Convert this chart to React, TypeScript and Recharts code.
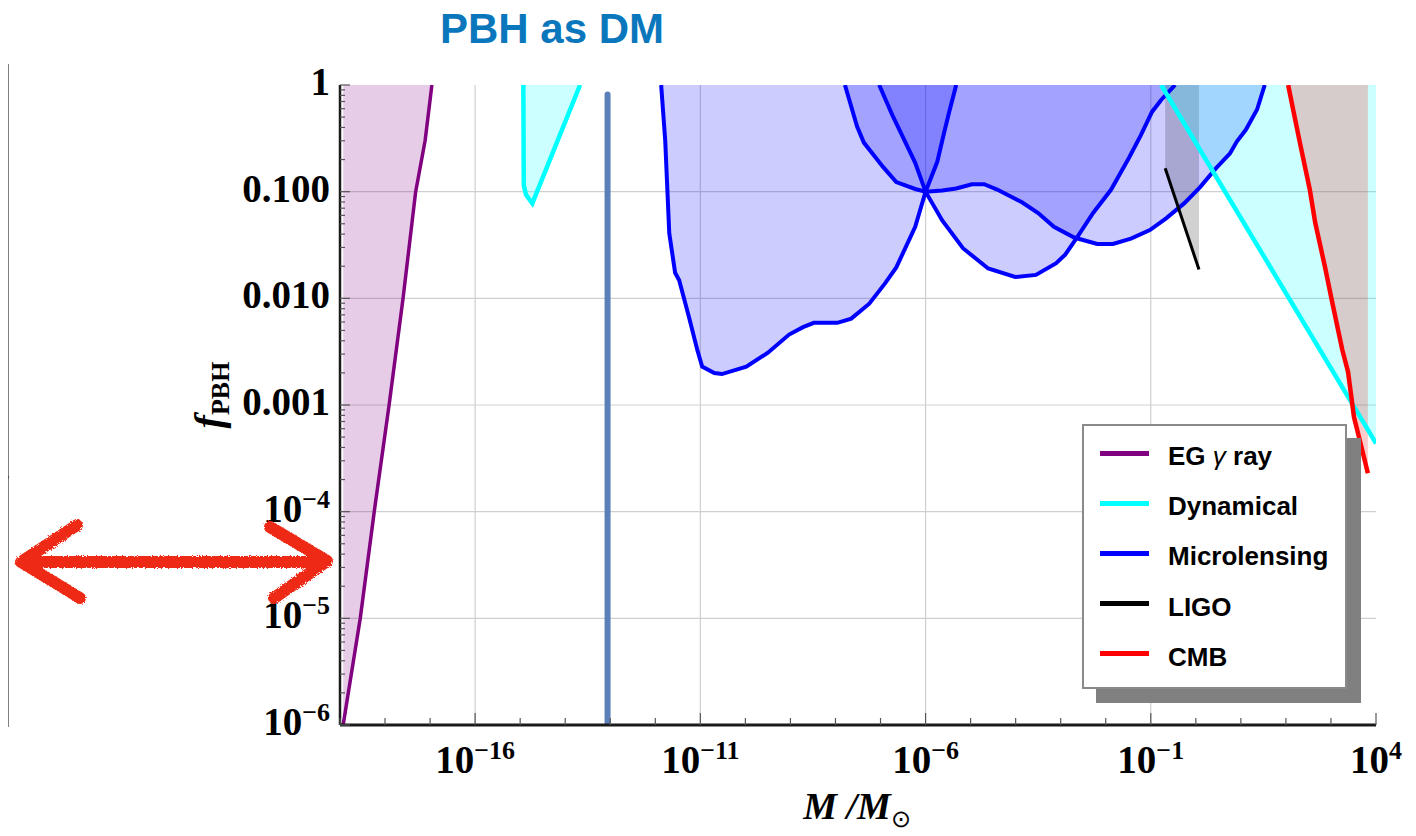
import React from "react";
import { ComposedChart, Area, Line, XAxis, YAxis, CartesianGrid } from "recharts";

// all points are [log10(M/Msun), log10(f_PBH)]
const egGamma = [[-18.93, -6], [-18.55, -5], [-18.24, -4], [-17.91, -3], [-17.6, -2], [-17.32, -1], [-17.11, -0.52], [-16.96, 0]];
const dynSmall = [[-14.93, 0], [-14.92, -0.94], [-14.87, -1.03], [-14.73, -1.11], [-13.67, 0]];
const dynLarge = [[-0.77, 0], [4, -3.36]];
const spike = [[-13.06, -6], [-13.06, -0.09]];
const lensA = [
  [-11.87, 0], [-11.78, -0.52], [-11.69, -1.39], [-11.56, -1.76], [-11.47, -1.83], [-11.25, -2.18],
  [-11.07, -2.48], [-10.96, -2.64], [-10.69, -2.7], [-10.52, -2.71], [-9.98, -2.64], [-9.5, -2.51],
  [-9.03, -2.34], [-8.72, -2.27], [-8.48, -2.23], [-7.96, -2.23], [-7.65, -2.19], [-7.25, -2.05],
  [-6.9, -1.86], [-6.65, -1.71], [-6.23, -1.33], [-6.0, -1.0], [-5.74, -0.72], [-5.59, -0.45],
  [-5.48, -0.26], [-5.32, 0],
];
const lensB = [
  [-7.79, 0], [-7.52, -0.39], [-7.37, -0.54], [-6.94, -0.77], [-6.65, -0.91], [-6.23, -0.975],
  [-6.0, -1.0], [-5.63, -0.99], [-5.32, -0.97], [-4.97, -0.93], [-4.7, -0.93], [-4.41, -0.98],
  [-3.86, -1.1], [-3.5, -1.2], [-3.15, -1.33], [-2.7, -1.43], [-2.19, -1.49], [-1.84, -1.49],
  [-1.44, -1.44], [-1.02, -1.36], [-0.66, -1.25], [-0.26, -1.11], [0.09, -0.96], [0.45, -0.78],
  [0.76, -0.64], [0.91, -0.53], [1.11, -0.42], [1.36, -0.23], [1.53, 0],
];
const lensC = [
  [-7.03, 0], [-6.74, -0.28], [-6.5, -0.49], [-6.23, -0.73], [-6.0, -1.0], [-5.63, -1.27],
  [-5.17, -1.53], [-4.61, -1.72], [-4.01, -1.8], [-3.55, -1.78], [-3.1, -1.67], [-2.9, -1.59],
  [-2.64, -1.43], [-2.28, -1.2], [-1.88, -0.98], [-1.48, -0.68], [-1.22, -0.47], [-0.97, -0.25],
  [-0.77, -0.14], [-0.46, 0],
];
const ligo = [[-0.68, -0.78], [0.07, -1.73]];
const cmb = [
  [2.05, 0], [2.16, -0.23], [2.31, -0.54], [2.53, -0.98], [2.65, -1.29], [2.87, -1.71], [3.02, -2.02],
  [3.25, -2.48], [3.38, -2.69], [3.47, -2.98], [3.51, -3.11], [3.64, -3.33], [3.82, -3.64],
];

const xTicks = Array.from({ length: 24 }, (_, i) => i - 19);
const xLabels = [-16, -11, -6, -1, 4];
const yDecades = [-6, -5, -4, -3, -2, -1, 0];
const yLabels: Record<string, [string, string]> = {
  "0": ["1", ""], "-1": ["0.100", ""], "-2": ["0.010", ""], "-3": ["0.001", ""],
  "-4": ["10", "\u22124"], "-5": ["10", "\u22125"], "-6": ["10", "\u22126"],
};
const gridX = [-16, -11, -6, -1];
const gridY = [-5, -4, -3, -2, -1];

const legendItems = [
  { name: "EG", greek: "\u03b3", rest: " ray", color: "#800080" },
  { name: "Dynamical", color: "#00ffff" },
  { name: "Microlensing", color: "#0000ff" },
  { name: "LIGO", color: "#000000" },
  { name: "CMB", color: "#ff0000" },
];

const yTicks: number[] = [];
yDecades.forEach((d) => {
  yTicks.push(d);
  if (d < 0) for (let k = 2; k <= 9; k++) yTicks.push(d + Math.log10(k));
});

const pts = (a: number[][]) => a.map(([x, y]) => ({ x, y }));
const serif = '"Liberation Serif", "Times New Roman", serif';
const sans = '"Liberation Sans", Arial, sans-serif';
const sup = (v: number) => (v < 0 ? "\u2212" + Math.abs(v) : String(v));

function BottomTick(props: any) {
  const { x, y, payload } = props;
  const v = payload.value;
  const major = xLabels.includes(v);
  return (
    <g>
      <line x1={x} y1={y} x2={x} y2={y - (major ? 12 : 7)} stroke="#555" strokeWidth={1.2} />
      {major && (
        <text x={x} y={y + 48} textAnchor="middle" fontFamily={serif} fontWeight="bold" fontSize={39} fill="#000">
          <tspan>10</tspan>
          <tspan dy={-14} fontSize={26}>{sup(v)}</tspan>
        </text>
      )}
    </g>
  );
}

function TopTick(props: any) {
  const { x, y } = props;
  return <line x1={x} y1={y} x2={x} y2={y + 8} stroke="#555" strokeWidth={1.2} />;
}

function LeftTick(props: any) {
  const { x, y, payload } = props;
  const v = payload.value;
  const major = Number.isInteger(v);
  const lab = major ? yLabels[String(v)] : null;
  return (
    <g>
      <line x1={x} y1={y} x2={x + (major ? 10 : 5)} y2={y} stroke="#555" strokeWidth={1.2} />
      {lab && (
        <text x={x - 10} y={y + 10} textAnchor="end" fontFamily={serif} fontWeight="bold" fontSize={39} fill="#000">
          <tspan>{lab[0]}</tspan>
          {lab[1] && <tspan dy={-14} fontSize={26}>{lab[1]}</tspan>}
        </text>
      )}
    </g>
  );
}

function RightTick(props: any) {
  const { x, y, payload } = props;
  const major = Number.isInteger(payload.value);
  return <line x1={x} y1={y} x2={x - (major ? 10 : 5)} y2={y} stroke="#555" strokeWidth={1.2} />;
}

function XTitle(props: any) {
  const vb = props.viewBox || { x: 332, y: 717, width: 1036 };
  return (
    <text x={vb.x + 517} y={vb.y + 94} textAnchor="middle" fontFamily={serif} fontWeight="bold" fontStyle="italic" fontSize={38} fill="#000">
      <tspan>M /M</tspan>
      <tspan dy={8} fontSize={24} fontStyle="normal" fontWeight="normal">{"\u2299"}</tspan>
    </text>
  );
}

function YTitle() {
  return (
    <text transform="translate(214,387) rotate(-90)" textAnchor="middle" fontFamily={serif} fontWeight="bold" fontSize={40} fill="#000">
      <tspan fontStyle="italic">f</tspan>
      <tspan dy={7} fontSize={26}>PBH</tspan>
    </text>
  );
}

const regions = [
  { data: egGamma, color: "#800080", fill: 0.2, width: 3.5 },
  { data: dynSmall, color: "#00ffff", fill: 0.2, width: 4.5 },
  { data: lensA, color: "#0000ff", fill: 0.2, width: 4 },
  { data: lensB, color: "#0000ff", fill: 0.2, width: 4 },
  { data: lensC, color: "#0000ff", fill: 0.2, width: 4 },
  { data: ligo, color: "#000000", fill: 0.18, width: 3 },
  { data: dynLarge, color: "#00ffff", fill: 0.2, width: 4.5 },
  { data: cmb, color: "#ff0000", fill: 0.2, width: 4.5 },
];

export default function App() {
  return (
    <div style={{ position: "relative", width: 1400, height: 828 }}>
      <ComposedChart width={1400} height={828} margin={{ top: 77, right: 32, bottom: 0, left: 0 }}>
        <CartesianGrid verticalValues={gridX} horizontalValues={gridY} stroke="#cfcfcf" strokeWidth={1.2} />
        <XAxis
          type="number" dataKey="x" domain={[-19, 4]} allowDataOverflow ticks={xTicks} interval={0}
          height={111} tickSize={0} tickMargin={0} tickLine={false} tick={<BottomTick />}
          axisLine={{ stroke: "#1a1a1a", strokeWidth: 3 }} label={<XTitle />}
        />
        <XAxis
          xAxisId="top" orientation="top" type="number" dataKey="x" domain={[-19, 4]} allowDataOverflow
          ticks={xTicks} interval={0} height={0} tickSize={0} tickMargin={0} tickLine={false} tick={<TopTick />}
          axisLine={{ stroke: "#1a1a1a", strokeWidth: 3 }}
        />
        <YAxis
          type="number" domain={[-6, 0]} allowDataOverflow ticks={yTicks} interval={0} width={332}
          tickSize={0} tickMargin={0} tickLine={false} tick={<LeftTick />}
          axisLine={{ stroke: "#1a1a1a", strokeWidth: 2.5 }} label={<YTitle />}
        />
        <YAxis
          yAxisId="right" orientation="right" type="number" domain={[-6, 0]} allowDataOverflow ticks={yTicks}
          interval={0} width={0} tickSize={0} tickMargin={0} tickLine={false} tick={<RightTick />}
          axisLine={{ stroke: "#1a1a1a", strokeWidth: 2.5 }}
        />
        {regions.map((r, i) => (
          <Area
            key={"a" + i} data={pts(r.data)} dataKey="y" type="linear" baseValue={0} stroke="none"
            fill={r.color} fillOpacity={r.fill} isAnimationActive={false}
          />
        ))}
        <Line
          data={pts(spike)} dataKey="y" type="linear" stroke="#5b7fb8" strokeWidth={6} strokeLinecap="round"
          dot={false} isAnimationActive={false}
        />
        {regions.map((r, i) => (
          <Line
            key={"l" + i} data={pts(r.data)} dataKey="y" type="linear" stroke={r.color} strokeWidth={r.width}
            dot={false} isAnimationActive={false}
          />
        ))}
      </ComposedChart>
      <svg width={1416} height={836} style={{ position: "absolute", left: -8, top: -8, pointerEvents: "none" }}>
        <defs>
          <filter id="rough">
            <feTurbulence type="fractalNoise" baseFrequency="0.8" numOctaves={2} result="n" />
            <feDisplacementMap in="SourceGraphic" in2="n" scale={4} />
          </filter>
        </defs>
        <text x={552} y={43} textAnchor="middle" fontFamily={sans} fontWeight="bold" fontSize={42} fill="#0a77bd">
          PBH as DM
        </text>
        {/* edge of the neighbouring panel */}
        {[84, 245, 406, 560].map((g) => (
          <line key={g} x1={0} x2={5} y1={g} y2={g} stroke="#d0d0d0" strokeWidth={1} />
        ))}
        <line x1={0} y1={491} x2={8} y2={476} stroke="#888" strokeWidth={3} />
        <rect x={5} y={64} width={3.5} height={663} fill="#000" />
        <rect x={0} y={64} width={8} height={2.5} fill="#000" />
        <rect x={0} y={724.5} width={8} height={2.5} fill="#000" />
        <g filter="url(#rough)" stroke="#ee2b15" strokeWidth={12} strokeLinecap="round" strokeLinejoin="round" fill="none">
          <path d="M24 562 L324 562" />
          <path d="M77 525 L21 562 L80 598" />
          <path d="M270 527 L327 561 L274 598" />
        </g>
      </svg>
      <div
        style={{
          position: "absolute", left: 1074, top: 416, width: 265, height: 265, boxSizing: "border-box",
          border: "2px solid #8a8a8a", background: "#fff", boxShadow: "14px 14px 0 #808080",
          fontFamily: sans, fontWeight: "bold", fontSize: 26, color: "#000",
        }}
      >
        {legendItems.map((it, i) => {
          const cy = 27 + i * 50.2;
          return (
            <div key={it.name}>
              <div style={{ position: "absolute", left: 16, top: cy - 2.5, width: 49, height: 5, background: it.color }} />
              <div style={{ position: "absolute", left: 84, top: cy - 17, height: 40, lineHeight: "40px", whiteSpace: "nowrap" }}>
                {it.name}
                {it.greek && (
                  <>
                    {" "}
                    <span style={{ fontStyle: "italic", fontWeight: "normal" }}>{it.greek}</span>
                    {it.rest}
                  </>
                )}
              </div>
            </div>
          );
        })}
      </div>
    </div>
  );
}
